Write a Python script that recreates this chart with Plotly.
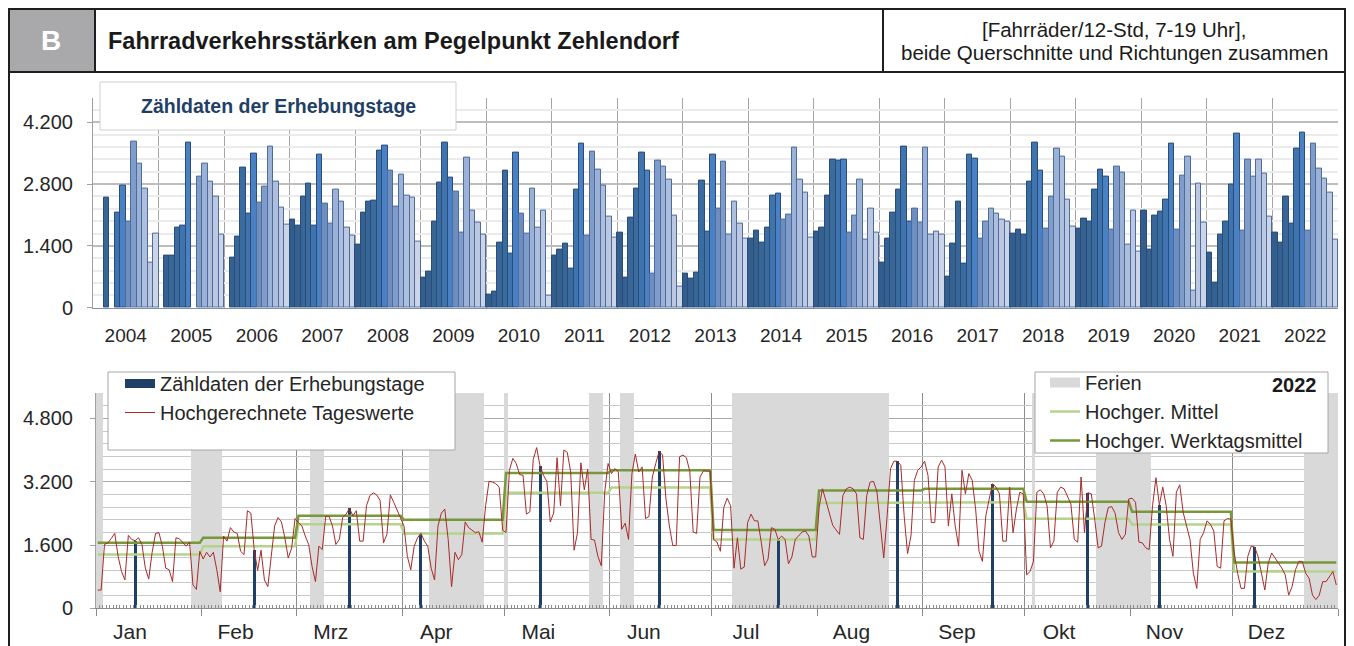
import datetime as dt
import plotly.graph_objects as go

OFF = 8                        # browser body margin
W, H = 1354 - OFF, 646 - OFF   # figure size (page bottom/right margin falls outside the window)
FONT = "Liberation Sans, Arial, sans-serif"

# ---------------- data: top chart (counts on survey days, per month) ----------------
years = [str(y) for y in range(2004, 2023)]
months = ["Jan", "Feb", "Mrz", "Apr", "Mai", "Jun", "Jul", "Aug", "Sep", "Okt", "Nov", "Dez"]

c2004 = [None, None, 2500, None, 2160, 2760, 1960, 3770, 3270, 2700, 1030, 1670]
c2005 = [None, 1170, 1190, 1810, 1850, 3730, None, 2980, 3270, 2860, 2520, 1660]
c2006 = [None, 1140, 1600, 3180, 2130, 3500, 2390, 2740, 3660, 2860, 2260, 1890]
c2007 = [2000, 1850, 2520, 2820, 1850, 3460, 2360, 1900, 2680, 2410, 1810, 1640]
c2008 = [1440, 2160, 2400, 2420, 3570, 3670, 3100, 2290, 3020, 2540, 2490, 1500]
c2009 = [690, 820, 1960, 2840, 3750, 2950, 2630, 1700, 3410, 2190, 1930, 1660]
c2010 = [300, 360, 1480, 3110, 1220, 3510, 2140, 1690, 2700, 1820, 2210, 270]
c2011 = [1170, 1310, 1460, 880, 2670, 3720, 1630, 3540, 3140, 2760, 2070, 1590]
c2012 = [1710, 690, 2050, 2690, 3520, 3110, 780, 3330, 3200, 2910, 2090, 480]
c2013 = [780, 670, 800, 2890, 1730, 3460, 2250, 3320, 1650, 2400, 1900, 1560]
c2014 = [1560, 1750, 1480, 1820, 2550, 2580, 2000, 2120, 3630, 2900, 2610, 1580]
c2015 = [1720, 1820, 2550, 3350, 3330, 3350, 1700, 2090, 2910, 1540, 2240, 1700]
c2016 = [1030, 1570, 2150, 2680, 3660, 1960, 2250, 1930, 3630, 1660, 1720, 1650]
c2017 = [700, 1460, 2410, 1010, 3480, 3370, 1570, 1960, 2250, 2140, 2000, 1960]
c2018 = [1670, 1780, 1650, 2860, 3730, 3110, 1800, 2520, 3610, 3420, 2460, 1840]
c2019 = [1790, 2030, 1960, 2670, 3140, 2980, 1780, 3200, 3070, 1440, 2210, 1260]
c2020 = [2190, 1320, 2080, 2180, 2440, 3710, 1770, 2990, 3420, 390, 2810, 1930]
c2021 = [1250, 570, 1660, 1940, 2800, 3950, 1750, 3350, 2970, 3350, 3040, 2070]
c2022 = [1707, 1481, 2523, 1896, 3596, 3966, 1737, 3717, 3150, 2923, 2606, 1549]
year_counts = [c2004, c2005, c2006, c2007, c2008, c2009, c2010, c2011, c2012, c2013,
               c2014, c2015, c2016, c2017, c2018, c2019, c2020, c2021, c2022]

month_colors = ["#325D8C", "#34618F", "#386696", "#3B6C9F", "#3F74AE", "#4A80C4",
                "#6E8EC0", "#7F9CCA", "#9CB1D6", "#AEBEDD", "#BCC8E2", "#CCD5E7"]
month_lines = ["#2A4C78"] * 6 + ["#4D6C9C"] * 6

# ---------------- data: bottom chart (2022 daily values) ----------------
d_jan = [460, 460, 1613, 1655, 1766, 1894, 1314, 930, 717, 1843, 1741, 1707, 1783, 1613, 1015, 742,
         1416, 1894, 1911, 1570, 1015, 973, 674, 1783, 1758, 1655, 1570, 1672, 589, 478, 1442]
d_feb = [1246, 1416, 1297, 1416, 973, 418, 1826, 1698, 2039, 1928, 1894, 1442, 1357, 2466, 2406,
         1481, 956, 1468, 717, 546, 1314, 2082, 2295, 2184, 1783, 1271, 1527, 2270]
d_mar = [2167, 2082, 1826, 1613, 1058, 674, 1570, 1485, 2321, 2321, 2082, 1613, 1741, 2295, 2381,
         2523, 2338, 2466, 1698, 1698, 2594, 2850, 2918, 2867, 2722, 1655, 1869, 2867, 2680, 2466, 2270]
d_apr = [2082, 1314, 973, 1570, 1783, 1896, 1698, 1570, 1015, 717, 2082, 2406, 2509, 1741, 546,
         1416, 1229, 1357, 2184, 2039, 1980, 1911, 1937, 1672, 2594, 3209, 3192, 3149, 3063, 1980]
d_mai = [1911, 3490, 3789, 3661, 3379, 3362, 2381, 2440, 3763, 4062, 3596, 3362, 3208, 2184, 2406,
         3806, 2594, 4002, 3942, 3447, 1468, 1911, 3678, 2995, 3516, 1741, 1724, 1314, 1075, 2935, 3661]
d_jun = [3405, 3533, 3447, 1997, 2150, 1741, 3405, 3900, 3447, 3575, 2270, 2321, 3319, 3661, 3966,
         3874, 2765, 2082, 1587, 1587, 3831, 3874, 3806, 3464, 1929, 1894, 3319, 3472, 3472, 3464]
d_jul = [1741, 1672, 1442, 2551, 2782, 2594, 1015, 1783, 990, 1041, 2167, 2381, 2210, 2210, 1672,
         1075, 1246, 2039, 1997, 1737, 1826, 1741, 1126, 1297, 1741, 1826, 1928, 1954, 1826, 1297, 1297]
d_aug = [2551, 3021, 2722, 2381, 2099, 1980, 1869, 2850, 3021, 3063, 3021, 2893, 1783, 1741, 2850,
         3191, 3208, 2952, 2167, 1271, 2338, 3533, 3720, 3717, 3618, 2338, 1382, 1826, 3234, 3490, 3575]
d_sep = [3720, 3362, 2167, 2167, 3575, 3746, 3575, 2082, 2893, 2082, 1570, 3490, 2893, 3405, 3234,
         2509, 1442, 1186, 2338, 2765, 3150, 3063, 2893, 1698, 1698, 3063, 1911, 2509, 2935, 2893]
d_okt = [845, 930, 1186, 2935, 2995, 2893, 2594, 1527, 1698, 2935, 3063, 3021, 2850, 2637, 1741,
         1672, 3319, 1911, 2923, 2893, 2253, 1527, 1570, 2167, 2551, 2568, 2406, 1911, 1741, 1869, 2765]
d_nov = [2782, 2680, 1672, 1655, 1527, 1485, 2594, 3302, 2606, 3063, 2594, 1741, 1314, 2935, 3123,
         2423, 2082, 1741, 887, 503, 1741, 1911, 2210, 2125, 1954, 1058, 1015, 2210, 2270, 2253]
d_dez = [1399, 887, 503, 503, 1314, 1570, 1549, 1314, 887, 461, 1143, 1399, 1271, 1143, 1015,
         845, 333, 546, 973, 1186, 1186, 887, 759, 333, 222, 333, 674, 674, 802, 930, 589]
daily_months = [d_jan, d_feb, d_mar, d_apr, d_mai, d_jun, d_jul, d_aug, d_sep, d_okt, d_nov, d_dez]

mittel = [1357, 1570, 2125, 1894, 2918, 3055, 1741, 2662, 2679, 2261, 2116, 930]
werktagsmittel = [1655, 1784, 2338, 2236, 3422, 3490, 1980, 2978, 3021, 2696, 2440, 1160]

erhebungstage = ["2022-01-12", "2022-02-16", "2022-03-16", "2022-04-06", "2022-05-11", "2022-06-15",
                 "2022-07-20", "2022-08-24", "2022-09-21", "2022-10-19", "2022-11-09", "2022-12-07"]

ferien_von = ["2022-01-01", "2022-01-29", "2022-03-05", "2022-04-09", "2022-05-01", "2022-05-26",
              "2022-06-04", "2022-07-07", "2022-10-03", "2022-10-22", "2022-12-22"]
ferien_bis = ["2022-01-02", "2022-02-06", "2022-03-08", "2022-04-24", "2022-05-01", "2022-05-29",
              "2022-06-07", "2022-08-21", "2022-10-03", "2022-11-06", "2022-12-31"]

Y1_TOP = 4760
Y2_TOP = 5440
LABEL_SHIFT = 10   # month labels sit 10 days after the month start

# ---------------- derived ----------------
Y0 = dt.date(2022, 1, 1)


def day0(s):
    return (dt.date.fromisoformat(s) - Y0).days


month_len = [len(m) for m in daily_months]
month_start = [sum(month_len[:i]) for i in range(13)]
daily = [v for m in daily_months for v in m]
day_x = [i + 0.5 for i in range(len(daily))]
mittel_daily = [mittel[i] for i in range(12) for _ in range(month_len[i])]
werktag_daily = [werktagsmittel[i] for i in range(12) for _ in range(month_len[i])]
erh_x = [day0(s) + 0.5 for s in erhebungstage]

fer_a = [day0(s) for s in ferien_von]
fer_b = [day0(s) + 1 for s in ferien_bis]
fer_x = [(a + b) / 2 for a, b in zip(fer_a, fer_b)]
fer_w = [b - a for a, b in zip(fer_a, fer_b)]

bar_x, bar_y, bar_c, bar_lc = [], [], [], []
for yi, vals in enumerate(year_counts):
    for m, v in enumerate(vals):
        bar_x.append(yi * 12 + m + 0.5)
        bar_y.append(v)
        bar_c.append(month_colors[m])
        bar_lc.append(month_lines[m])


def px(x):
    return (x - OFF) / W


def py(y):
    return 1 - (y - OFF) / H


fig = go.Figure()

# top chart bars
fig.add_trace(go.Bar(x=bar_x, y=bar_y, width=1, xaxis="x", yaxis="y", showlegend=False,
                     marker=dict(color=bar_c, line=dict(color=bar_lc, width=1))))

# holidays (full-height bands)
fig.add_trace(go.Bar(x=fer_x, y=[Y2_TOP] * len(fer_x), width=fer_w, xaxis="x2", yaxis="y2",
                     showlegend=False, marker=dict(color="#D9D9D9", line=dict(width=0))))

# legend-only entries
fig.add_trace(go.Scatter(x=[None], y=[None], mode="lines", name="Zähldaten der Erhebungstage",
                         line=dict(color="#1F3F66", width=9), xaxis="x2", yaxis="y2", legend="legend"))
fig.add_trace(go.Scatter(x=[None], y=[None], mode="lines", name="Ferien",
                         line=dict(color="#D9D9D9", width=10), xaxis="x3", yaxis="y2", legend="legend2"))

fig.add_trace(go.Scatter(x=day_x, y=mittel_daily, mode="lines", name="Hochger. Mittel",
                         line=dict(color="#B4D48C", width=2.5), xaxis="x2", yaxis="y2", legend="legend2"))
fig.add_trace(go.Scatter(x=day_x, y=werktag_daily, mode="lines", name="Hochger. Werktagsmittel",
                         line=dict(color="#77983B", width=2.5), xaxis="x2", yaxis="y2", legend="legend2"))
fig.add_trace(go.Scatter(x=day_x, y=daily, mode="lines", name="Hochgerechnete Tageswerte",
                         line=dict(color="#A82A2A", width=1), xaxis="x2", yaxis="y2", legend="legend"))
fig.add_trace(go.Bar(x=erh_x, y=c2022, width=0.9, xaxis="x2", yaxis="y2", showlegend=False,
                     marker=dict(color="#1F3F66", line=dict(width=0))))

tickfont = dict(family=FONT, size=19, color="#262626")
yfont = dict(family=FONT, size=20, color="#262626")
mfont = dict(family=FONT, size=21, color="#262626")

frame = dict(color="#1E1E1E", width=2)
shapes = [
    dict(type="rect", xref="paper", yref="paper", x0=px(8), x1=px(95), y0=py(72), y1=py(8),
         fillcolor="#A9A9AB", line=dict(width=0), layer="above"),
    dict(type="line", xref="paper", yref="paper", x0=px(8), x1=px(1346), y0=py(9), y1=py(9), line=frame, layer="above"),
    dict(type="line", xref="paper", yref="paper", x0=px(8), x1=px(1346), y0=py(72), y1=py(72), line=frame, layer="above"),
    dict(type="line", xref="paper", yref="paper", x0=px(9), x1=px(9), y0=py(8), y1=py(660), line=frame, layer="above"),
    dict(type="line", xref="paper", yref="paper", x0=px(1345), x1=px(1345), y0=py(8), y1=py(660), line=frame, layer="above"),
    dict(type="line", xref="paper", yref="paper", x0=px(95), x1=px(95), y0=py(8), y1=py(72), line=frame, layer="above"),
    dict(type="line", xref="paper", yref="paper", x0=px(883), x1=px(883), y0=py(8), y1=py(72), line=frame, layer="above"),
    # box label of top chart
    dict(type="rect", xref="paper", yref="paper", x0=px(100), x1=px(456), y0=py(130), y1=py(82),
         fillcolor="white", line=dict(color="#CFCFCF", width=1), layer="above"),
    # legend boxes
    dict(type="rect", xref="paper", yref="paper", x0=px(108), x1=px(455), y0=py(450), y1=py(372),
         fillcolor="white", line=dict(color="#A6A6A6", width=1), layer="above"),
    dict(type="rect", xref="paper", yref="paper", x0=px(1035), x1=px(1328), y0=py(453), y1=py(372),
         fillcolor="white", line=dict(color="#A6A6A6", width=1), layer="above"),
]

annotations = [
    dict(text="<b>B</b>", x=px(51), y=py(40), xref="paper", yref="paper", showarrow=False,
         font=dict(family=FONT, size=28, color="white"), xanchor="center", yanchor="middle"),
    dict(text="<b>Fahrradverkehrsstärken am Pegelpunkt Zehlendorf</b>", x=px(106), y=py(41), xref="paper",
         yref="paper", showarrow=False, font=dict(family=FONT, size=23.5, color="#1A1A1A"),
         xanchor="left", yanchor="middle"),
    dict(text="[Fahrräder/12-Std, 7-19 Uhr],", x=px(1114), y=py(29), xref="paper", yref="paper",
         showarrow=False, font=dict(family=FONT, size=20.5, color="#1A1A1A"), xanchor="center", yanchor="middle"),
    dict(text="beide Querschnitte und Richtungen zusammen", x=px(1114), y=py(52), xref="paper", yref="paper",
         showarrow=False, font=dict(family=FONT, size=20.5, color="#1A1A1A"), xanchor="center", yanchor="middle"),
    dict(text="<b>Zähldaten der Erhebungstage</b>", x=px(278), y=py(106), xref="paper", yref="paper",
         showarrow=False, font=dict(family=FONT, size=19.5, color="#1F3F66"), xanchor="center", yanchor="middle"),
    dict(text="<b>2022</b>", x=px(1319), y=py(385), xref="paper", yref="paper",
         showarrow=False, font=dict(family=FONT, size=20, color="#1A1A1A"), xanchor="right", yanchor="middle"),
]

fig.update_layout(
    width=W, height=H, margin=dict(l=0, r=0, t=0, b=0, pad=0, autoexpand=False),
    paper_bgcolor="white", plot_bgcolor="white", barmode="overlay", bargap=0,
    font=dict(family=FONT, size=19, color="#262626"),
    shapes=shapes, annotations=annotations, hovermode=False,
    xaxis=dict(domain=[px(93), px(1338)], range=[0, 228], anchor="y", automargin=False,
               tickmode="array", tickvals=[yi * 12 + 6 for yi in range(len(years))], ticktext=years,
               ticks="", showgrid=False, zeroline=False, showline=True, linecolor="#7F93B0", linewidth=1,
               tickfont=tickfont, ticklabelstandoff=10,
               minor=dict(tickmode="array", tickvals=[yi * 12 for yi in range(len(years) + 1)],
                          showgrid=True, gridcolor="#A6A6A6", gridwidth=1, ticks="")),
    yaxis=dict(domain=[py(307.7), py(97.6)], range=[0, Y1_TOP], anchor="x", automargin=False,
               tickmode="array", tickvals=[0, 1400, 2800, 4200], ticktext=["0", "1.400", "2.800", "4.200"],
               showgrid=True, gridcolor="#BDBDBD", gridwidth=1.5, zeroline=False,
               ticks="outside", ticklen=5, tickcolor="#A0A0A0", showline=True, linecolor="#A0A0A0",
               tickfont=yfont, ticklabelstandoff=10,
               minor=dict(tickmode="linear", tick0=0, dtick=280, showgrid=True, gridcolor="#EBEBEB", ticks="")),
    xaxis2=dict(domain=[px(96), px(1338)], range=[0, 365], anchor="y2", automargin=False,
                tickmode="array", tickvals=[month_start[i] + LABEL_SHIFT for i in range(12)],
                ticktext=months, ticks="", showgrid=False, zeroline=False,
                showline=True, linecolor="#8C8C8C", linewidth=1, tickfont=mfont, ticklabelstandoff=4,
                minor=dict(tickmode="array", tickvals=month_start, showgrid=True, gridcolor="#8C8C8C",
                           gridwidth=1, ticks="outside", ticklen=7, tickcolor="#8C8C8C")),
    xaxis3=dict(overlaying="x2", anchor="y2", range=[0, 365], tickmode="linear", tick0=0, dtick=1,
                ticks="inside", ticklen=3, tickcolor="#8C8C8C", tickwidth=1, showticklabels=False,
                showgrid=False, zeroline=False, showline=False, side="bottom", automargin=False),
    yaxis2=dict(domain=[py(608.3), py(393.1)], range=[0, Y2_TOP], anchor="x2", automargin=False,
                tickmode="array", tickvals=[0, 1600, 3200, 4800], ticktext=["0", "1.600", "3.200", "4.800"],
                showgrid=True, gridcolor="#A8A8A8", gridwidth=1, zeroline=False,
                ticks="outside", ticklen=5, tickcolor="#A0A0A0", showline=True, linecolor="#A0A0A0",
                tickfont=yfont, ticklabelstandoff=13,
                minor=dict(tickmode="linear", tick0=0, dtick=320, showgrid=True, gridcolor="#C8C8C8", ticks="")),
    legend=dict(x=px(120), y=py(364), xanchor="left", yanchor="top", bgcolor="rgba(0,0,0,0)", borderwidth=0,
                font=dict(family=FONT, size=20, color="#262626"), tracegroupgap=0, itemwidth=30,
                traceorder="normal"),
    legend2=dict(x=px(1045), y=py(363), xanchor="left", yanchor="top", bgcolor="rgba(0,0,0,0)", borderwidth=0,
                 font=dict(family=FONT, size=20, color="#262626"), tracegroupgap=0, itemwidth=30,
                 traceorder="normal"),
)

fig.write_html("out.html")
